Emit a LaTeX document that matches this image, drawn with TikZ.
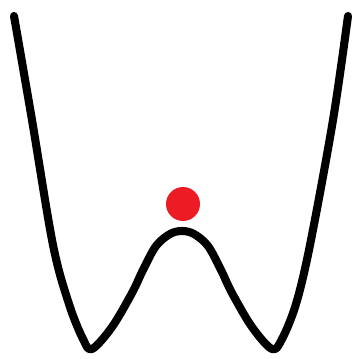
\documentclass[tikz,border=0pt]{standalone}
\definecolor{paintred}{RGB}{237,28,36}
\tikzset{wellcurve/.style={line width=4.6pt,line cap=round,line join=round,black}}
\begin{document}
\begin{tikzpicture}[x=0.02cm,y=-0.02cm]
\useasboundingbox (0,0) rectangle (353,359);
\draw[wellcurve] plot[smooth,tension=0.55] coordinates {
(14,16) (32,120) (53,245) (69,304) (83,339) (92,349)
(112,327) (132,293) (143,270) (156,246) (170,234) (182,231) (194,234) (208,246) (221,270) (232,293) (252,327)
(272,349) (282,339) (296,304) (310,245) (333,120) (348,16)};
\node[circle,fill=paintred,minimum size=0.68cm,inner sep=0pt] (ball) at (183,204) {};
\end{tikzpicture}
\end{document}
